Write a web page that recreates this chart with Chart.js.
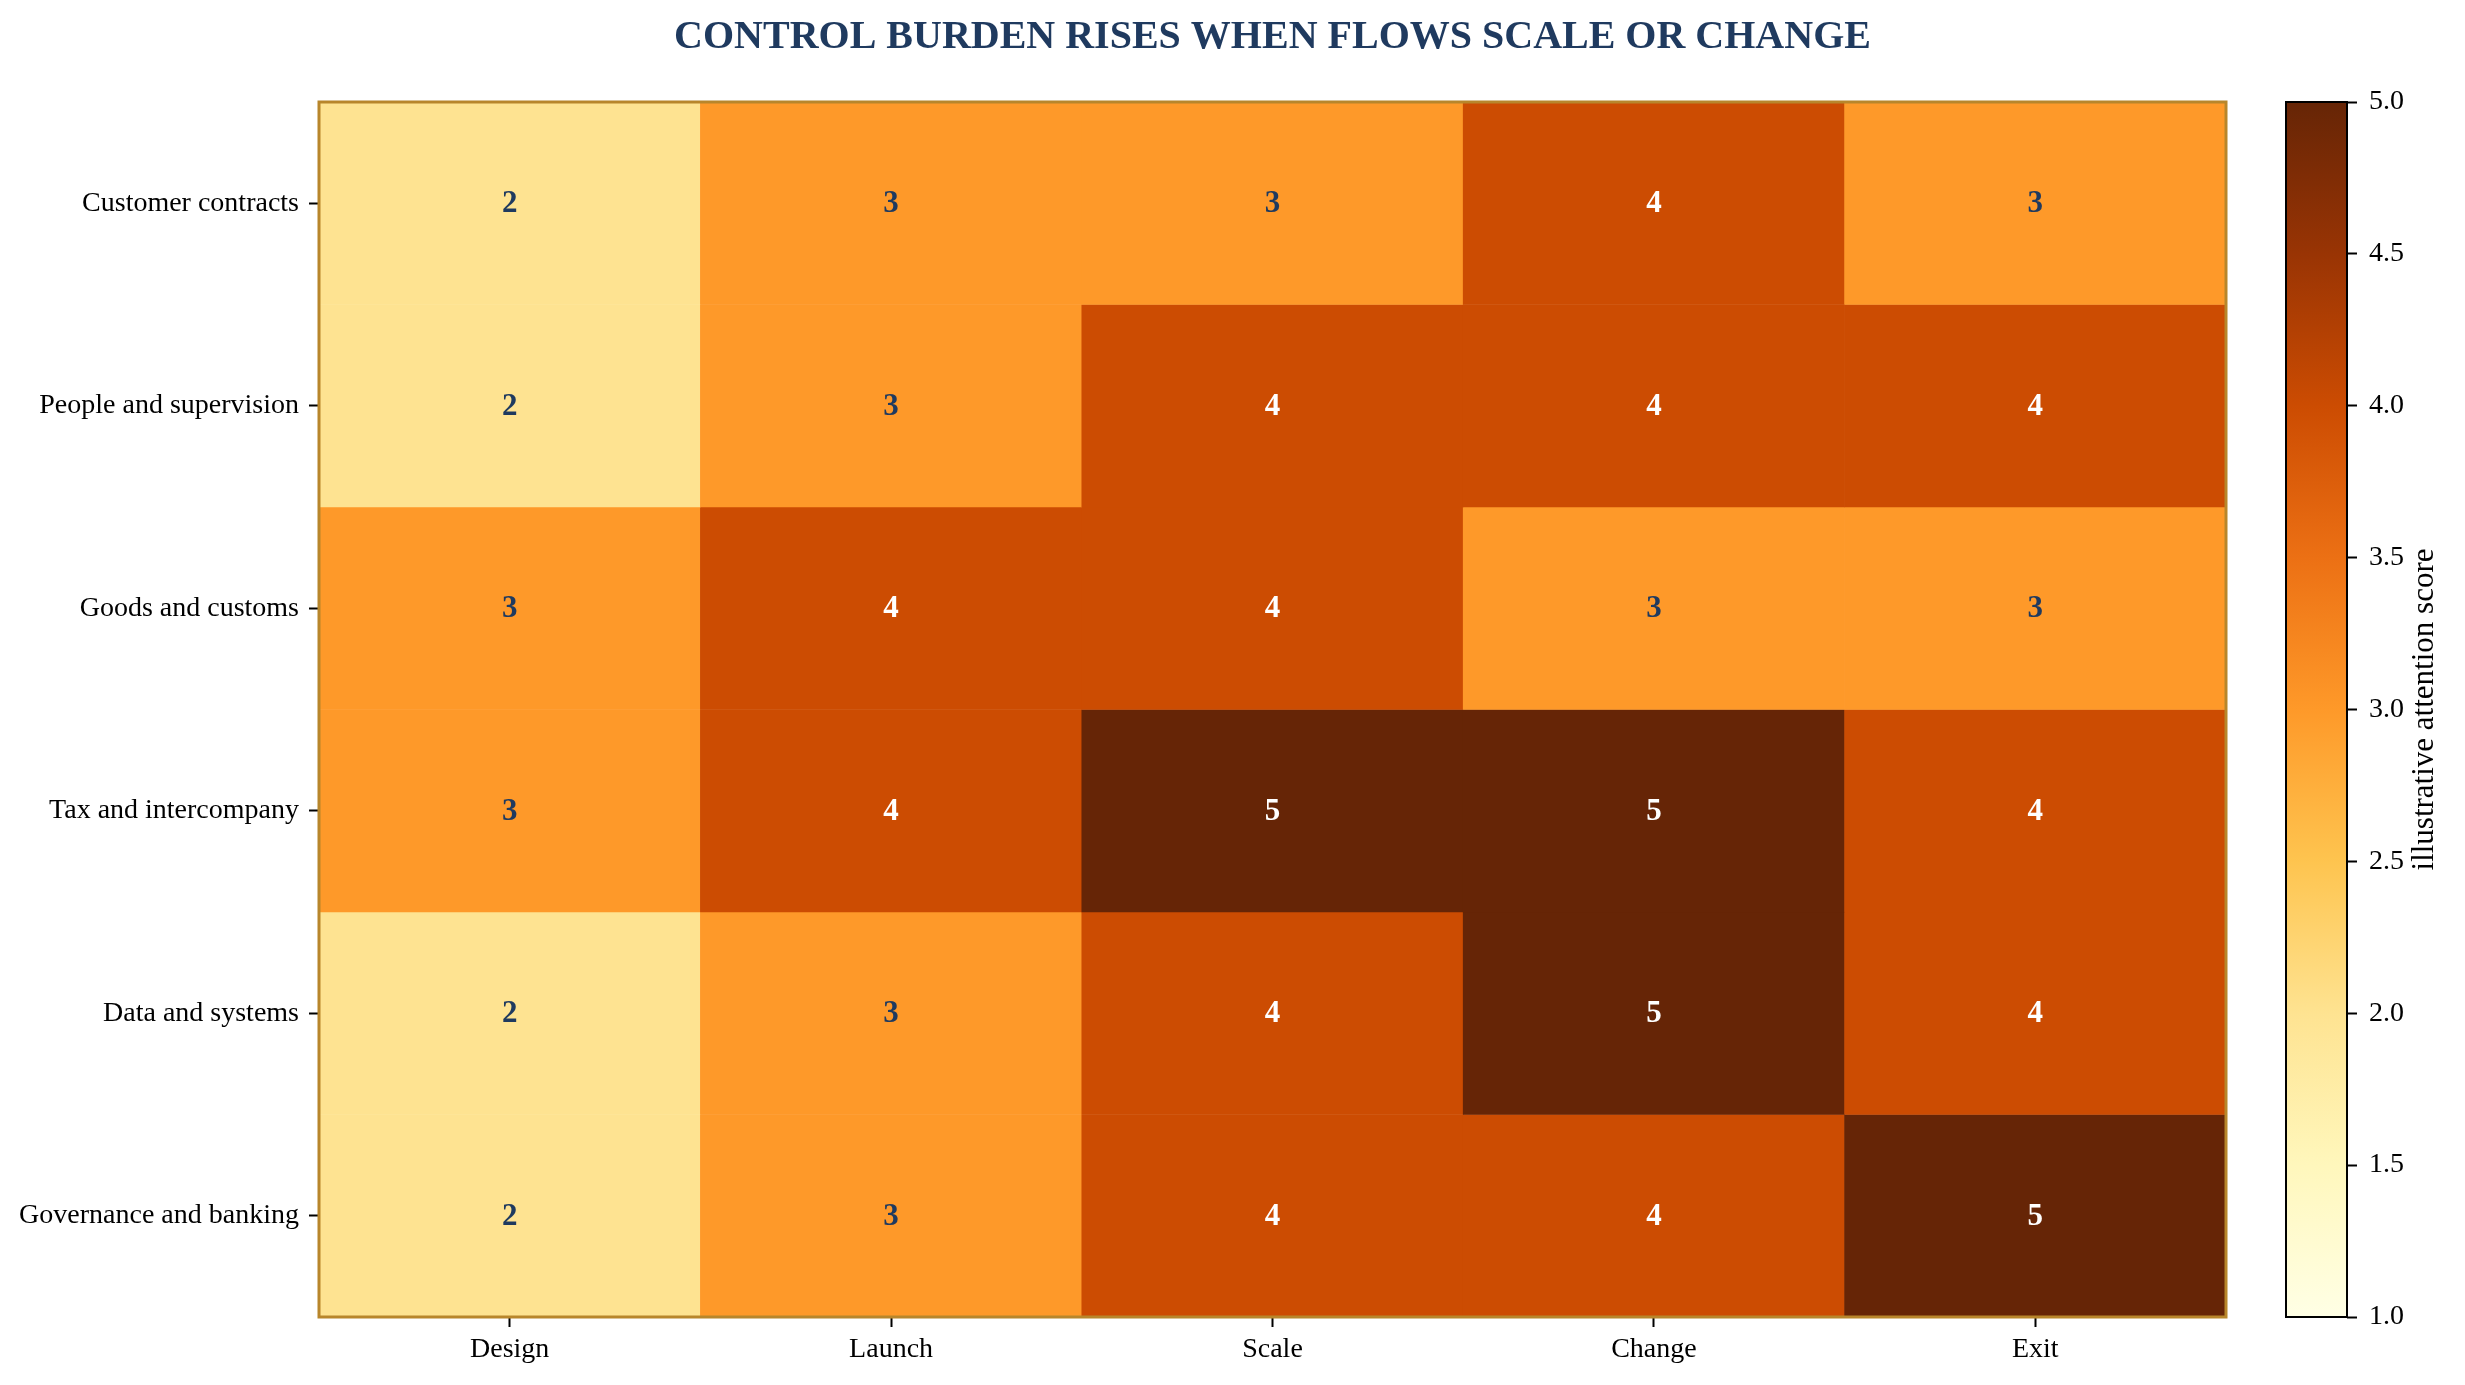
<!DOCTYPE html>
<html>
<head>
<meta charset="utf-8">
<script src="https://cdn.jsdelivr.net/npm/chart.js@4.4.1/dist/chart.umd.min.js"></script>
<style>
  html, body { margin: 0; padding: 0; background: #fff; }
  #main { position: absolute; left: 0; top: 0; width: 2260px; height: 1385px; }
  #bar { position: absolute; left: 2260px; top: 0; width: 205px; height: 1385px; }
</style>
</head>
<body>
<div id="main"><canvas id="heat"></canvas></div>
<div id="bar"><canvas id="cbar"></canvas></div>
<script>
const stages = ["Design", "Launch", "Scale", "Change", "Exit"];
const areas = [
  "Customer contracts",
  "People and supervision",
  "Goods and customs",
  "Tax and intercompany",
  "Data and systems",
  "Governance and banking"
];
const customerContracts = [2, 3, 3, 4, 3];
const peopleSupervision = [2, 3, 4, 4, 4];
const goodsCustoms = [3, 4, 4, 3, 3];
const taxIntercompany = [3, 4, 5, 5, 4];
const dataSystems = [2, 3, 4, 5, 4];
const governanceBanking = [2, 3, 4, 4, 5];
const scores = [customerContracts, peopleSupervision, goodsCustoms, taxIntercompany, dataSystems, governanceBanking];

const scoreMin = 1;
const scoreMax = 5;
const colorbarTicks = [1.0, 1.5, 2.0, 2.5, 3.0, 3.5, 4.0, 4.5, 5.0];
const title = "CONTROL BURDEN RISES WHEN FLOWS SCALE OR CHANGE";
const colorbarLabel = "illustrative attention score";

// YlOrBr
const cmap = ["#ffffe5", "#fff7bc", "#fee391", "#fec44f", "#fe9929", "#ec7014", "#cc4c02", "#993404", "#662506"];

const serif = '"Liberation Serif", "Times New Roman", serif';
const navy = "#1f3a5f";
const frame = "#b8862b";

function hexToRgb(h) {
  return [1, 3, 5].map(i => parseInt(h.slice(i, i + 2), 16));
}

function colorFor(v) {
  const t = Math.min(1, Math.max(0, (v - scoreMin) / (scoreMax - scoreMin)));
  const pos = t * (cmap.length - 1);
  const i = Math.min(cmap.length - 2, Math.floor(pos));
  const f = pos - i;
  const a = hexToRgb(cmap[i]), b = hexToRgb(cmap[i + 1]);
  const c = a.map((x, k) => Math.round(x + (b[k] - x) * f));
  return `rgb(${c[0]},${c[1]},${c[2]})`;
}

const cellLabels = {
  id: "cellLabels",
  afterDatasetsDraw(chart) {
    const { ctx, chartArea } = chart;
    ctx.save();
    ctx.font = `bold 31px ${serif}`;
    ctx.textAlign = "center";
    ctx.textBaseline = "middle";
    chart.data.datasets.forEach((ds, i) => {
      chart.getDatasetMeta(i).data.forEach((bar, j) => {
        const v = scores[i][j];
        const p = bar.getCenterPoint();
        ctx.fillStyle = v >= 4 ? "#ffffff" : navy;
        ctx.fillText(String(v), p.x, p.y + 1);
      });
    });
    ctx.strokeStyle = frame;
    ctx.lineWidth = 3;
    ctx.strokeRect(chartArea.left, chartArea.top, chartArea.right - chartArea.left, chartArea.bottom - chartArea.top);
    ctx.font = `bold 40px ${serif}`;
    ctx.fillStyle = navy;
    ctx.textBaseline = "alphabetic";
    ctx.fillText(title, (chartArea.left + chartArea.right) / 2, 48);
    ctx.restore();
  }
};

new Chart(document.getElementById("heat"), {
  type: "bar",
  data: {
    labels: stages,
    datasets: areas.map((name, i) => ({
      label: name,
      data: scores[i].map(() => [i, i + 1]),
      backgroundColor: scores[i].map(colorFor),
      borderWidth: 0,
      barPercentage: 1,
      categoryPercentage: 1,
      grouped: false
    }))
  },
  options: {
    responsive: true,
    maintainAspectRatio: false,
    devicePixelRatio: 1,
    animation: false,
    layout: { padding: { top: 102, right: 34, left: 0, bottom: 0 } },
    plugins: { legend: { display: false }, tooltip: { enabled: false } },
    scales: {
      x: {
        grid: { offset: false, drawOnChartArea: false, drawTicks: true, tickLength: 10, tickColor: "#000", tickWidth: 2 },
        border: { display: false },
        ticks: { color: "#000", font: { family: serif, size: 28 }, padding: 6, maxRotation: 0 },
        afterFit: s => { s.height = 68; }
      },
      y: {
        type: "linear",
        min: 0,
        max: areas.length,
        reverse: true,
        grid: { drawOnChartArea: false, drawTicks: true, tickLength: 10, tickColor: "#000", tickWidth: 2 },
        border: { display: false },
        afterBuildTicks: s => { s.ticks = areas.map((_, i) => ({ value: i + 0.5 })); },
        ticks: {
          color: "#000",
          font: { family: serif, size: 28 },
          padding: 10,
          callback: v => areas[Math.floor(v)]
        },
        afterFit: s => { s.width = 319; }
      }
    }
  },
  plugins: [cellLabels]
});

const colorbarFrame = {
  id: "colorbarFrame",
  afterDatasetsDraw(chart) {
    const { ctx, chartArea } = chart;
    ctx.save();
    ctx.strokeStyle = "#000";
    ctx.lineWidth = 2;
    ctx.strokeRect(chartArea.left, chartArea.top, chartArea.right - chartArea.left, chartArea.bottom - chartArea.top);
    ctx.translate(165, (chartArea.top + chartArea.bottom) / 2);
    ctx.rotate(-Math.PI / 2);
    ctx.font = `31px ${serif}`;
    ctx.fillStyle = "#000";
    ctx.textAlign = "center";
    ctx.textBaseline = "middle";
    ctx.fillText(colorbarLabel, 0, 0);
    ctx.restore();
  }
};

new Chart(document.getElementById("cbar"), {
  type: "bar",
  data: {
    labels: [""],
    datasets: [{
      data: [[scoreMin, scoreMax]],
      borderWidth: 0,
      barPercentage: 1,
      categoryPercentage: 1,
      backgroundColor: c => {
        const chart = c.chart;
        if (!chart.chartArea) return cmap[4];
        const y = chart.scales.y;
        const g = chart.ctx.createLinearGradient(0, y.getPixelForValue(scoreMin), 0, y.getPixelForValue(scoreMax));
        cmap.forEach((col, k) => g.addColorStop(k / (cmap.length - 1), col));
        return g;
      }
    }]
  },
  options: {
    responsive: true,
    maintainAspectRatio: false,
    devicePixelRatio: 1,
    animation: false,
    layout: { padding: { top: 102, left: 26, right: 0, bottom: 68 } },
    plugins: { legend: { display: false }, tooltip: { enabled: false } },
    scales: {
      x: { display: false },
      y: {
        type: "linear",
        position: "right",
        min: scoreMin,
        max: scoreMax,
        grid: { drawOnChartArea: false, drawTicks: true, tickLength: 10, tickColor: "#000", tickWidth: 2 },
        border: { display: false },
        afterBuildTicks: s => { s.ticks = colorbarTicks.map(v => ({ value: v })); },
        ticks: { color: "#000", font: { family: serif, size: 28 }, padding: 12, callback: v => Number(v).toFixed(1) },
        afterFit: s => { s.width = 118; }
      }
    }
  },
  plugins: [colorbarFrame]
});
</script>
</body>
</html>
